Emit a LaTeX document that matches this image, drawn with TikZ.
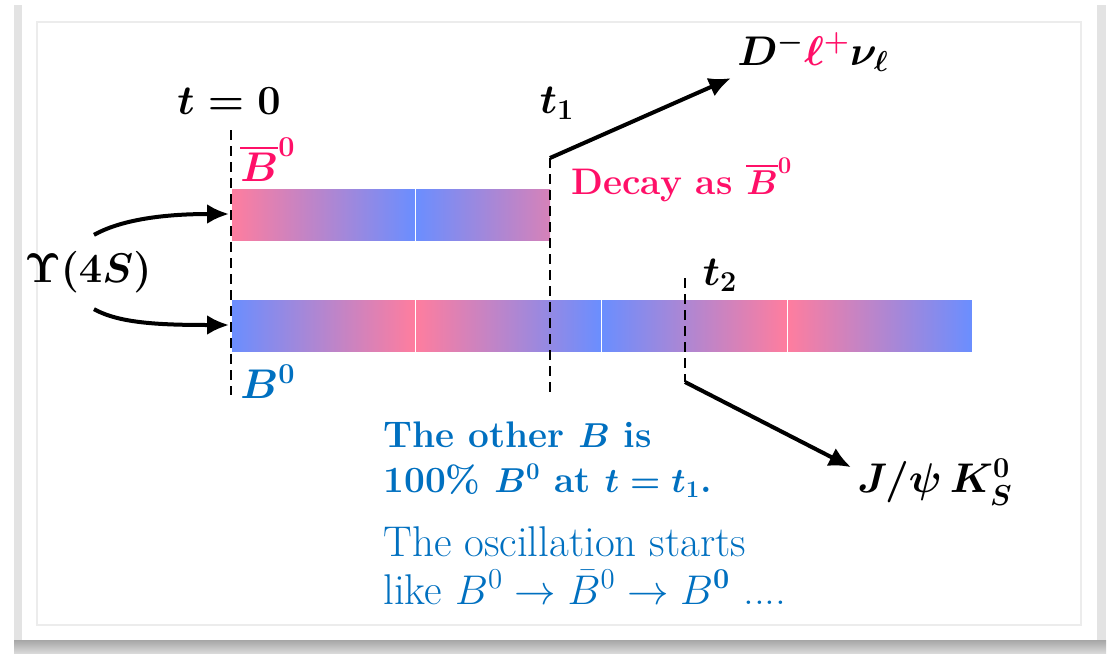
\documentclass[tikz,border=0pt]{standalone}
\usepackage{amsmath,amssymb}
\usetikzlibrary{arrows.meta,positioning,calc}
\definecolor{barpink}{RGB}{255,125,158}
\definecolor{barmid}{RGB}{196,136,240}
\definecolor{barblue}{RGB}{106,142,255}
\definecolor{decaypink}{RGB}{255,16,104}
\definecolor{textblue}{RGB}{0,112,192}
\tikzset{
  mathlbl/.style={inner sep=3pt,font=\fontsize{20}{24}\selectfont\bfseries\boldmath},
  flow/.style={-{Latex[length=11pt,width=10pt]},line width=2pt},
  timeline/.style={dash pattern=on 5pt off 3pt,line width=1.2pt},
  barseg/.style={draw=white,line width=0.4pt},
  p2b/.style={barseg,left color=barpink,middle color=barmid,right color=barblue},
  b2p/.style={barseg,left color=barblue,middle color=barmid,right color=barpink},
  note/.style={anchor=base west,inner sep=0pt,text=textblue},
  notebold/.style={note,font=\fontsize{18.5}{22}\selectfont\bfseries\boldmath},
  noteplain/.style={note,font=\fontsize{21.5}{25}\selectfont}
}

\begin{document}
\begin{tikzpicture}[x=0.5pt,y=-0.5pt]
  \useasboundingbox (0,0) rectangle (1118,653);
  \fill[gray!22] (14,5) rectangle (1106,640);
  \shade[top color=gray!70,bottom color=gray!30] (14,640) rectangle (1106,653);
  \fill[white] (22,5) rectangle (1097,640);
  \draw[gray!15,line width=0.6pt] (37,22) rectangle (1081,625);

  \shadedraw[p2b] (231,188) rectangle (415,241);
  \begin{scope}
    \clip (415,187) rectangle (550,242);
    \shadedraw[b2p] (415,188) rectangle (601,241);
  \end{scope}
  \foreach \xa/\xb/\dir in {231/415/b2p,415/601/p2b,601/787/b2p,787/972/p2b}
    \shadedraw[\dir] (\xa,299) rectangle (\xb,352);

  \coordinate (t0top) at (231,130);
  \coordinate (t0bot) at (231,395);
  \coordinate (t1top) at (550,158);
  \coordinate (t1bot) at (550,395);
  \coordinate (t2top) at (685,278);
  \coordinate (t2bot) at (685,382);
  \coordinate (upin) at (229,214);
  \coordinate (lowin) at (229,325);
  \draw[timeline] (t0top) -- (t0bot);
  \draw[timeline] (t1top) -- (t1bot);
  \draw[timeline] (t2top) -- (t2bot);

  \node[mathlbl] (tzero) at (229,101) {$t=0$};
  \node[mathlbl] (tone) at (557,103) {$t_1$};
  \node[mathlbl] (ttwo) at (720,275) {$t_2$};
  \node[mathlbl,text=decaypink] (bbarlbl) at (268,160) {$\overline{B}^0$};
  \node[mathlbl,text=textblue] (blbl) at (268,382) {$B^0$};
  \node[mathlbl,font=\fontsize{18.5}{22}\selectfont\bfseries\boldmath,text=decaypink] (decay) at (682,180) {Decay as $\overline{B}^0$};
  \node[mathlbl] (semilep) at (813,52) {$D^-\textcolor{decaypink}{\ell^+}\nu_\ell$};
  \node[mathlbl] (jpsi) at (935,482) {$J/\psi\,K_S^0$};
  \node[mathlbl,font=\fontsize{21}{25}\selectfont\bfseries\boldmath] (ups) at (88,272) {$\Upsilon(4S)$};

  \node[notebold] (other1) at (383,447) {The other $B$ is};
  \node[notebold] (other2) at (383,492) {100\% $B^0$ at $t=t_1$.};
  \node[noteplain] (osc1) at (383,556) {The oscillation starts};
  \node[noteplain] (osc2) at (383,604) {like $B^0\rightarrow\bar{B}^0\rightarrow B^{\mathbf{0}}$ ....};

  \draw[flow] (t1top) -- (semilep.south west);
  \draw[flow] (t2bot) -- (jpsi.170);
  \draw[flow] ([xshift=3pt,yshift=5pt]ups.north) .. controls +(25,-14) and +(-70,0) .. (upin);
  \draw[flow] ([xshift=3pt,yshift=-5pt]ups.south) .. controls +(25,14) and +(-70,0) .. (lowin);
\end{tikzpicture}
\end{document}
